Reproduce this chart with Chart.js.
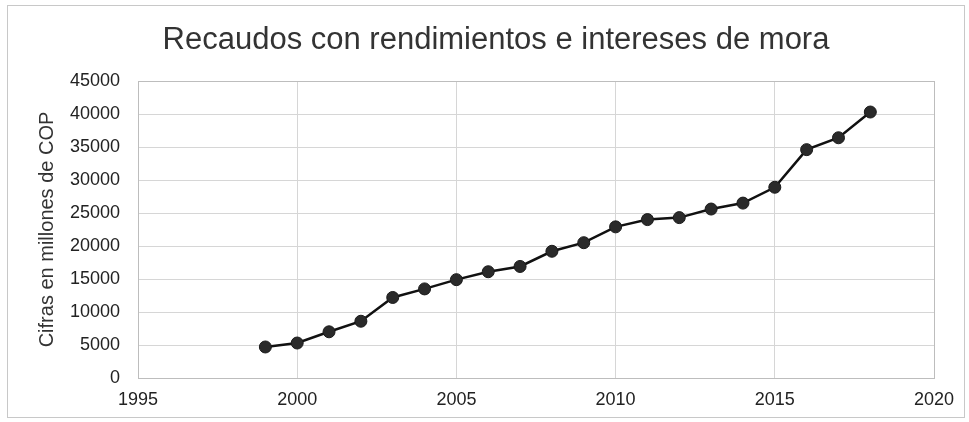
<!DOCTYPE html>
<html>
<head>
<meta charset="utf-8">
<script src="https://cdn.jsdelivr.net/npm/chart.js@4/dist/chart.umd.min.js"></script>
<style>
html,body{margin:0;padding:0;background:#fff;}
#wrap{width:969px;height:422px;position:relative;}
</style>
</head>
<body>
<div id="wrap"><canvas id="c" width="969" height="422"></canvas></div>
<script>
const years = [1999,2000,2001,2002,2003,2004,2005,2006,2007,2008,2009,2010,2011,2012,2013,2014,2015,2016,2017,2018];
const values = [4700,5300,7000,8600,12200,13500,14900,16100,16900,19200,20500,22900,24000,24300,25600,26500,28900,34600,36400,40300];
const titleText = 'Recaudos con rendimientos e intereses de mora';
const yTitle = 'Cifras en millones de COP';

const frame = {
  id:'frame',
  beforeDraw(chart){
    const ctx = chart.ctx;
    ctx.save();
    ctx.fillStyle='#fff';
    ctx.fillRect(0,0,chart.width,chart.height);
    ctx.strokeStyle='#c8c8c8';
    ctx.lineWidth=1;
    ctx.strokeRect(7.5,5.5,957,412);
    ctx.restore();
  },
  afterDraw(chart){
    const a = chart.chartArea, ctx = chart.ctx;
    ctx.save();
    ctx.strokeStyle='#bdbdbd';
    ctx.lineWidth=1;
    ctx.strokeRect(Math.round(a.left)+0.5, Math.round(a.top)+0.5, Math.round(a.right-a.left), Math.round(a.bottom-a.top));
    ctx.restore();
  }
};

const FONT = 'Liberation Sans, Arial, sans-serif';

new Chart(document.getElementById('c'), {
  type:'scatter',
  data:{
    datasets:[{
      data: years.map((y,i)=>({x:y,y:values[i]})),
      showLine:true,
      borderColor:'#111',
      borderWidth:2.5,
      backgroundColor:'#2a2a2a',
      pointBackgroundColor:'#2a2a2a',
      pointBorderColor:'#1a1a1a',
      pointRadius:6,
      pointBorderWidth:1
    }]
  },
  options:{
    responsive:false,
    animation:false,
    layout:{padding:{left:58,right:35,top:0,bottom:0}},
    plugins:{
      legend:{display:false},
      tooltip:{enabled:false},
      title:{display:true,text:titleText,color:'#333',
        font:{family:FONT,size:31,weight:'normal'},
        padding:{top:21.4,bottom:22.4}}
    },
    scales:{
      x:{type:'linear',min:1995,max:2020,
        ticks:{stepSize:5,color:'#222',font:{family:FONT,size:18},padding:11,
          callback:v=>String(v)},
        grid:{color:'#d6d6d6',drawTicks:false},
        border:{display:false},
        afterFit(s){s.height=44;}
      },
      y:{min:0,max:45000,
        ticks:{stepSize:5000,color:'#222',font:{family:FONT,size:18},padding:18,
          callback:v=>String(v)},
        grid:{color:'#d6d6d6',drawTicks:false},
        border:{display:false},
        title:{display:true,text:yTitle,color:'#333',font:{family:FONT,size:20},padding:{top:-23,bottom:0}},
        afterFit(s){s.width=80;}
      }
    }
  },
  plugins:[frame]
});
</script>
</body>
</html>
